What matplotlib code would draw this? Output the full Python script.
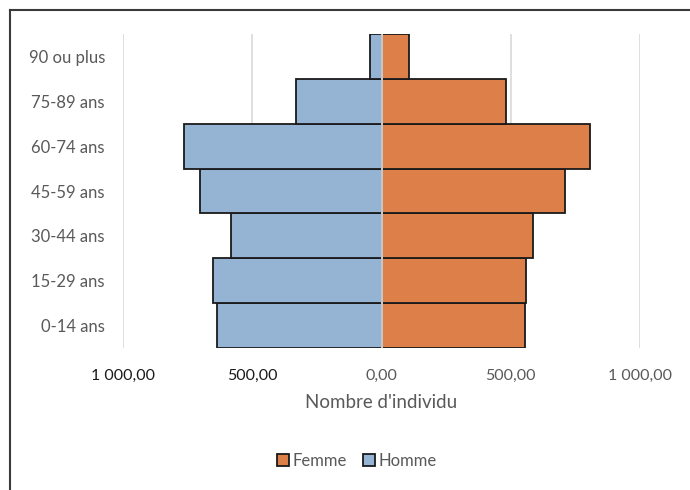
import matplotlib
matplotlib.use("Agg")
import matplotlib.pyplot as plt
from matplotlib.lines import Line2D
from matplotlib.patches import Patch
from matplotlib.ticker import FuncFormatter

tranches = ['0-14 ans', '15-29 ans', '30-44 ans', '45-59 ans', '60-74 ans', '75-89 ans', '90 ou plus']
hommes = [636, 653, 583, 704, 765, 332, 43]
femmes = [555, 560, 588, 711, 805, 480, 106]
graduations = [-1000, -500, 0, 500, 1000]

COULEUR_F = '#dc7f48'
COULEUR_H = '#95b4d4'
GRIS = '#595959'

plt.rcParams['font.family'] = ['Lato', 'DejaVu Sans']

fig = plt.figure(figsize=(6.9, 4.9), dpi=100)
ax = fig.add_axes([123 / 690, 1 - 348 / 490, 517 / 690, 314 / 490])

y = list(range(len(tranches)))
ax.barh(y, [-v for v in hommes], height=1.0, color=COULEUR_H, edgecolor='#1a1a1a',
        linewidth=1.3, zorder=2, label='Homme')
ax.barh(y, femmes, height=1.0, color=COULEUR_F, edgecolor='#1a1a1a',
        linewidth=1.3, zorder=2, label='Femme')
ax.axvline(0, color='#d9d9d9', linewidth=1.3, zorder=3)

ax.set_xlim(-1000, 1000)
ax.set_ylim(-0.5, len(tranches) - 0.5)
ax.set_xticks(graduations)
ax.xaxis.set_major_formatter(FuncFormatter(
    lambda v, p: f"{abs(v):,.2f}".replace(',', ' ').replace('.', ',')))
ax.set_yticks(y)
ax.set_yticklabels(tranches)
ax.grid(axis='x', color='#d9d9d9', linewidth=1.2, zorder=0)
ax.set_axisbelow(True)
for s in ax.spines.values():
    s.set_visible(False)
ax.tick_params(axis='both', length=0, labelcolor=GRIS)
ax.tick_params(axis='x', pad=15, labelsize=11.5)
ax.tick_params(axis='y', pad=13, labelsize=12)
for lab, val in zip(ax.get_xticklabels(), graduations):
    if val < 0:
        lab.set_color('#1a1a1a')

ax.set_xlabel("Nombre d'individu", fontsize=13.5, color=GRIS, labelpad=8)

poignees = [Patch(facecolor=COULEUR_F, edgecolor='#1a1a1a', linewidth=1.3, label='Femme'),
            Patch(facecolor=COULEUR_H, edgecolor='#1a1a1a', linewidth=1.3, label='Homme')]
fig.legend(handles=poignees, loc='center', bbox_to_anchor=(357 / 690, 1 - 461 / 490),
           ncol=2, frameon=False, fontsize=12, handlelength=0.7, handleheight=0.7,
           handletextpad=0.2, columnspacing=1.0, labelcolor=GRIS)

# cadre du graphique (coupé à droite et en bas)
fig.add_artist(Line2D([10 / 690, 1], [1 - 10 / 490, 1 - 10 / 490], color='#3a3a3a',
                      linewidth=1.5, transform=fig.transFigure))
fig.add_artist(Line2D([10 / 690, 10 / 690], [0, 1 - 10 / 490], color='#3a3a3a',
                      linewidth=1.5, transform=fig.transFigure))

fig.savefig('out.png', dpi=100)
plt.close(fig)
